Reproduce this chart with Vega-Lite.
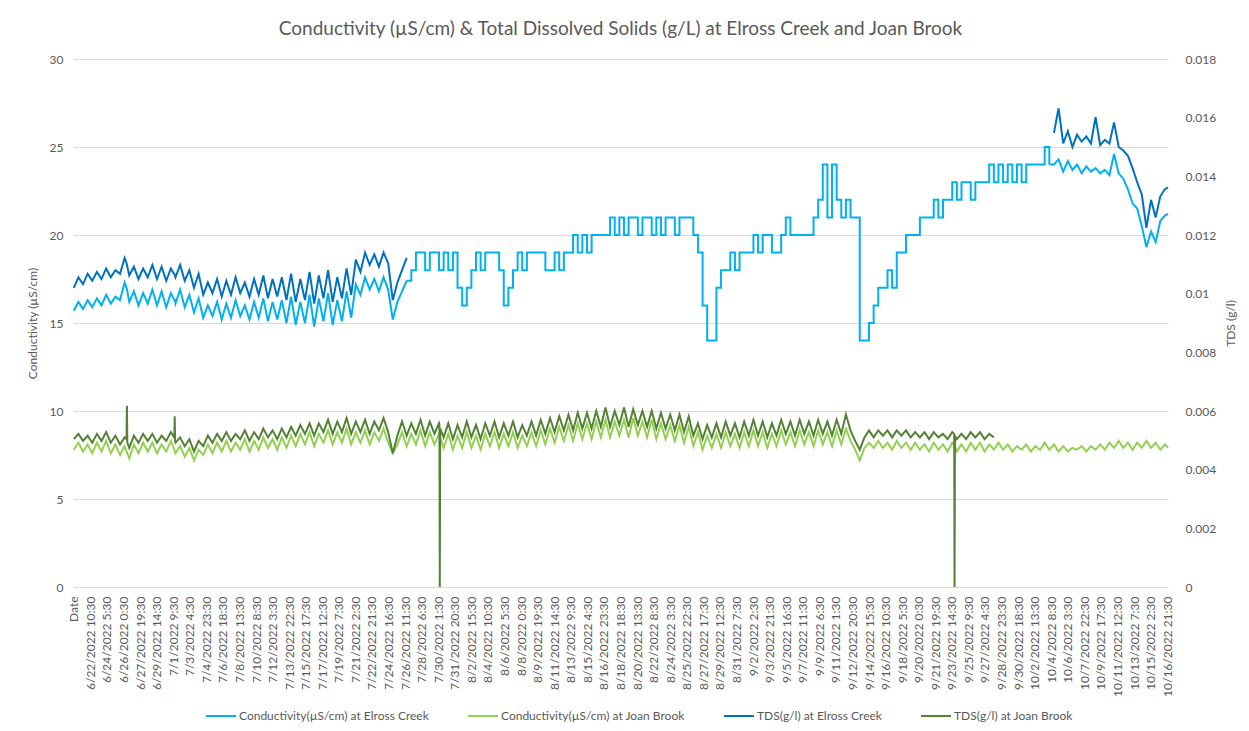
{
"$schema": "https://vega.github.io/schema/vega-lite/v6.json",
"width": 1095, "height": 528,
"autosize": {"type": "none"},
"padding": {"left": 73, "top": 59, "right": 81, "bottom": 144},
"background": "white",
"title": {"text": "Conductivity (µS/cm) & Total Dissolved Solids (g/L) at Elross Creek and Joan Brook", "fontSize": 19, "fontWeight": "normal", "color": "#595959", "anchor": "middle", "offset": 14},
"data": {"values": [
{"h":0,"ce":15.7,"cj":7.8,"te":0.0102,"tj":0.00504},
{"h":12,"ce":16.2,"cj":8.2,"te":0.01056,"tj":0.00522},
{"h":24,"ce":15.8,"cj":7.7,"te":0.01032,"tj":0.00498},
{"h":36,"ce":16.3,"cj":8.1,"te":0.01068,"tj":0.00516},
{"h":48,"ce":15.9,"cj":7.6,"te":0.01044,"tj":0.00492},
{"h":60,"ce":16.4,"cj":8.2,"te":0.01074,"tj":0.00522},
{"h":72,"ce":16.0,"cj":7.7,"te":0.0105,"tj":0.00498},
{"h":84,"ce":16.6,"cj":8.3,"te":0.01086,"tj":0.00528},
{"h":96,"ce":16.1,"cj":7.6,"te":0.01056,"tj":0.00492},
{"h":108,"ce":16.5,"cj":8.1,"te":0.0108,"tj":0.00516},
{"h":120,"ce":16.3,"cj":7.5,"te":0.01068,"tj":0.00486},
{"h":132,"ce":17.3,"cj":8.0,"te":0.01122,"tj":0.0051},
{"h":137,"ce":17.0,"cj":7.7,"te":0.01104,"tj":0.00504},
{"h":138,"ce":16.9,"cj":7.6,"te":0.01098,"tj":0.00618},
{"h":139,"ce":16.8,"cj":7.6,"te":0.01092,"tj":0.00492},
{"h":144,"ce":16.2,"cj":7.3,"te":0.01062,"tj":0.00474},
{"h":156,"ce":16.8,"cj":8.1,"te":0.01092,"tj":0.00516},
{"h":168,"ce":16.0,"cj":7.6,"te":0.0105,"tj":0.00492},
{"h":180,"ce":16.7,"cj":8.2,"te":0.01086,"tj":0.00522},
{"h":192,"ce":16.1,"cj":7.7,"te":0.01056,"tj":0.00498},
{"h":204,"ce":16.9,"cj":8.2,"te":0.01098,"tj":0.00522},
{"h":216,"ce":16.0,"cj":7.6,"te":0.0105,"tj":0.00492},
{"h":228,"ce":16.8,"cj":8.1,"te":0.01092,"tj":0.00516},
{"h":240,"ce":15.9,"cj":7.7,"te":0.01044,"tj":0.00498},
{"h":252,"ce":16.7,"cj":8.3,"te":0.01086,"tj":0.00528},
{"h":261,"ce":16.3,"cj":7.8,"te":0.01066,"tj":0.0051},
{"h":262,"ce":16.3,"cj":7.7,"te":0.01064,"tj":0.00582},
{"h":263,"ce":16.2,"cj":7.7,"te":0.0106,"tj":0.00498},
{"h":264,"ce":16.1,"cj":7.6,"te":0.01056,"tj":0.00492},
{"h":276,"ce":16.9,"cj":8.0,"te":0.01098,"tj":0.0051},
{"h":288,"ce":15.9,"cj":7.4,"te":0.01044,"tj":0.0048},
{"h":300,"ce":16.6,"cj":7.9,"te":0.0108,"tj":0.00504},
{"h":312,"ce":15.6,"cj":7.2,"te":0.0102,"tj":0.00462},
{"h":324,"ce":16.4,"cj":7.8,"te":0.01068,"tj":0.00498},
{"h":336,"ce":15.3,"cj":7.5,"te":0.00996,"tj":0.0048},
{"h":348,"ce":16.0,"cj":8.1,"te":0.01038,"tj":0.00516},
{"h":360,"ce":15.4,"cj":7.6,"te":0.01002,"tj":0.00492},
{"h":372,"ce":16.2,"cj":8.2,"te":0.0105,"tj":0.00522},
{"h":384,"ce":15.2,"cj":7.7,"te":0.0099,"tj":0.00498},
{"h":396,"ce":16.1,"cj":8.3,"te":0.01044,"tj":0.00528},
{"h":408,"ce":15.3,"cj":7.7,"te":0.00996,"tj":0.00498},
{"h":420,"ce":16.3,"cj":8.2,"te":0.01056,"tj":0.00522},
{"h":432,"ce":15.4,"cj":7.8,"te":0.01002,"tj":0.00504},
{"h":444,"ce":16.0,"cj":8.4,"te":0.01038,"tj":0.00534},
{"h":456,"ce":15.2,"cj":7.7,"te":0.0099,"tj":0.00498},
{"h":468,"ce":16.2,"cj":8.3,"te":0.0105,"tj":0.00528},
{"h":480,"ce":15.3,"cj":7.8,"te":0.00996,"tj":0.00504},
{"h":492,"ce":16.4,"cj":8.5,"te":0.01062,"tj":0.0054},
{"h":504,"ce":15.1,"cj":7.9,"te":0.00984,"tj":0.0051},
{"h":516,"ce":16.2,"cj":8.4,"te":0.0105,"tj":0.00534},
{"h":528,"ce":15.2,"cj":7.8,"te":0.0099,"tj":0.00504},
{"h":540,"ce":16.3,"cj":8.5,"te":0.01056,"tj":0.0054},
{"h":552,"ce":15.0,"cj":7.9,"te":0.00978,"tj":0.0051},
{"h":564,"ce":16.5,"cj":8.6,"te":0.01068,"tj":0.00546},
{"h":576,"ce":14.9,"cj":8.0,"te":0.00972,"tj":0.00516},
{"h":588,"ce":16.2,"cj":8.7,"te":0.0105,"tj":0.00552},
{"h":600,"ce":15.0,"cj":8.1,"te":0.00978,"tj":0.00522},
{"h":612,"ce":16.6,"cj":8.8,"te":0.01074,"tj":0.00558},
{"h":624,"ce":14.8,"cj":8.0,"te":0.00966,"tj":0.00516},
{"h":636,"ce":16.4,"cj":8.7,"te":0.01062,"tj":0.00558},
{"h":648,"ce":15.1,"cj":8.2,"te":0.00984,"tj":0.00528},
{"h":660,"ce":16.7,"cj":8.9,"te":0.0108,"tj":0.0057},
{"h":672,"ce":14.9,"cj":8.1,"te":0.00972,"tj":0.00522},
{"h":684,"ce":16.3,"cj":8.8,"te":0.01056,"tj":0.00564},
{"h":696,"ce":15.1,"cj":8.2,"te":0.00984,"tj":0.00528},
{"h":708,"ce":16.8,"cj":9.0,"te":0.01086,"tj":0.00576},
{"h":720,"ce":15.3,"cj":8.1,"te":0.00996,"tj":0.00522},
{"h":732,"ce":17.2,"cj":8.8,"te":0.01116,"tj":0.00564},
{"h":744,"ce":16.6,"cj":8.2,"te":0.01074,"tj":0.00528},
{"h":756,"ce":17.6,"cj":8.9,"te":0.0114,"tj":0.0057},
{"h":768,"ce":16.9,"cj":8.1,"te":0.01098,"tj":0.00522},
{"h":780,"ce":17.5,"cj":8.8,"te":0.01134,"tj":0.00564},
{"h":792,"ce":16.8,"cj":8.3,"te":0.01092,"tj":0.00534},
{"h":804,"ce":17.6,"cj":9.0,"te":0.0114,"tj":0.00576},
{"h":816,"ce":16.9,"cj":8.2,"te":0.01104,"tj":0.00528},
{"h":828,"ce":15.2,"cj":7.6,"te":0.00978,"tj":0.00456},
{"h":840,"ce":16.2,"cj":8.1,"te":0.01038,"tj":0.00516},
{"h":852,"ce":16.8,"cj":8.8,"te":0.0108,"tj":0.00564},
{"h":864,"ce":17.4,"cs":17.4,"cj":8.0,"te":0.01122,"tj":0.00516},
{"h":876,"cs":18,"cj":8.7,"tj":0.00558},
{"h":888,"cs":19,"cj":8.1,"tj":0.00522},
{"h":900,"cs":19,"cj":8.9,"tj":0.0057},
{"h":912,"cs":18,"cj":8.0,"tj":0.00516},
{"h":924,"cs":19,"cj":8.8,"tj":0.00564},
{"h":936,"cs":19,"cj":8.1,"tj":0.00522},
{"h":948,"cs":18,"cj":8.7,"tj":0.00558},
{"h":949,"cs":18,"cj":8.6,"tj":0.00552},
{"h":950,"cs":18,"cj":8.5,"tj":0},
{"h":951,"cs":18,"cj":8.5,"tj":0.0054},
{"h":960,"cs":19,"cj":7.9,"tj":0.0051},
{"h":972,"cs":18,"cj":8.7,"tj":0.00558},
{"h":984,"cs":19,"cj":7.8,"tj":0.00504},
{"h":996,"cs":17,"cj":8.6,"tj":0.00552},
{"h":1008,"cs":16,"cj":7.9,"tj":0.0051},
{"h":1020,"cs":17,"cj":8.8,"tj":0.00564},
{"h":1032,"cs":18,"cj":7.9,"tj":0.0051},
{"h":1044,"cs":19,"cj":8.6,"tj":0.00552},
{"h":1056,"cs":18,"cj":7.8,"tj":0.00504},
{"h":1068,"cs":19,"cj":8.7,"tj":0.00558},
{"h":1080,"cs":19,"cj":8.0,"tj":0.00516},
{"h":1092,"cs":19,"cj":8.8,"tj":0.00564},
{"h":1104,"cs":18,"cj":7.9,"tj":0.0051},
{"h":1116,"cs":16,"cj":8.7,"tj":0.00558},
{"h":1128,"cs":17,"cj":8.0,"tj":0.00516},
{"h":1140,"cs":18,"cj":8.8,"tj":0.00564},
{"h":1152,"cs":19,"cj":7.9,"tj":0.0051},
{"h":1164,"cs":18,"cj":8.6,"tj":0.00552},
{"h":1176,"cs":19,"cj":8.0,"tj":0.00516},
{"h":1188,"cs":19,"cj":8.8,"tj":0.00564},
{"h":1200,"cs":19,"cj":8.0,"tj":0.00516},
{"h":1212,"cs":19,"cj":8.9,"tj":0.0057},
{"h":1224,"cs":18,"cj":8.1,"tj":0.00522},
{"h":1236,"cs":18,"cj":9.0,"tj":0.00576},
{"h":1248,"cs":19,"cj":8.2,"tj":0.00528},
{"h":1260,"cs":18,"cj":9.1,"tj":0.00582},
{"h":1272,"cs":19,"cj":8.3,"tj":0.00534},
{"h":1284,"cs":19,"cj":9.2,"tj":0.00588},
{"h":1296,"cs":20,"cj":8.3,"tj":0.00534},
{"h":1308,"cs":19,"cj":9.3,"tj":0.00594},
{"h":1320,"cs":20,"cj":8.4,"tj":0.0054},
{"h":1332,"cs":19,"cj":9.3,"tj":0.00594},
{"h":1344,"cs":20,"cj":8.4,"tj":0.0054},
{"h":1356,"cs":20,"cj":9.4,"tj":0.006},
{"h":1368,"cs":20,"cj":8.5,"tj":0.00546},
{"h":1380,"cs":20,"cj":9.5,"tj":0.00612},
{"h":1392,"cs":21,"cj":8.5,"tj":0.00546},
{"h":1404,"cs":20,"cj":9.4,"tj":0.006},
{"h":1416,"cs":21,"cj":8.6,"tj":0.00552},
{"h":1428,"cs":20,"cj":9.5,"tj":0.00612},
{"h":1440,"cs":21,"cj":8.5,"tj":0.00546},
{"h":1452,"cs":21,"cj":9.6,"tj":0.00606},
{"h":1464,"cs":20,"cj":8.6,"tj":0.00552},
{"h":1476,"cs":21,"cj":9.4,"tj":0.006},
{"h":1488,"cs":21,"cj":8.5,"tj":0.00546},
{"h":1500,"cs":20,"cj":9.5,"tj":0.006},
{"h":1512,"cs":21,"cj":8.4,"tj":0.0054},
{"h":1524,"cs":20,"cj":9.3,"tj":0.00594},
{"h":1536,"cs":21,"cj":8.4,"tj":0.0054},
{"h":1548,"cs":21,"cj":9.2,"tj":0.00588},
{"h":1560,"cs":20,"cj":8.3,"tj":0.00534},
{"h":1572,"cs":21,"cj":9.2,"tj":0.00588},
{"h":1584,"cs":21,"cj":8.2,"tj":0.00528},
{"h":1596,"cs":21,"cj":9.1,"tj":0.00582},
{"h":1608,"cs":20,"cj":8.0,"tj":0.00516},
{"h":1620,"cs":19,"cj":8.8,"tj":0.00558},
{"h":1632,"cs":16,"cj":7.8,"tj":0.00504},
{"h":1644,"cs":14,"cj":8.6,"tj":0.00552},
{"h":1656,"cs":14,"cj":7.9,"tj":0.0051},
{"h":1668,"cs":17,"cj":8.7,"tj":0.00558},
{"h":1680,"cs":18,"cj":7.9,"tj":0.0051},
{"h":1692,"cs":18,"cj":8.8,"tj":0.00564},
{"h":1704,"cs":19,"cj":8.0,"tj":0.00516},
{"h":1716,"cs":18,"cj":8.7,"tj":0.00558},
{"h":1728,"cs":19,"cj":7.9,"tj":0.0051},
{"h":1740,"cs":19,"cj":8.8,"tj":0.00564},
{"h":1752,"cs":19,"cj":8.0,"tj":0.00516},
{"h":1764,"cs":20,"cj":8.9,"tj":0.0057},
{"h":1776,"cs":19,"cj":8.0,"tj":0.00516},
{"h":1788,"cs":20,"cj":8.8,"tj":0.00564},
{"h":1800,"cs":20,"cj":7.9,"tj":0.0051},
{"h":1812,"cs":19,"cj":8.7,"tj":0.00558},
{"h":1824,"cs":19,"cj":8.0,"tj":0.00516},
{"h":1836,"cs":20,"cj":8.9,"tj":0.0057},
{"h":1848,"cs":21,"cj":8.1,"tj":0.00522},
{"h":1860,"cs":20,"cj":8.8,"tj":0.00564},
{"h":1872,"cs":20,"cj":8.0,"tj":0.00516},
{"h":1884,"cs":20,"cj":8.9,"tj":0.0057},
{"h":1896,"cs":20,"cj":8.1,"tj":0.00522},
{"h":1908,"cs":20,"cj":8.8,"tj":0.00564},
{"h":1920,"cs":21,"cj":8.0,"tj":0.00516},
{"h":1932,"cs":22,"cj":8.9,"tj":0.0057},
{"h":1944,"cs":24,"cj":8.1,"tj":0.00522},
{"h":1956,"cs":21,"cj":8.8,"tj":0.00564},
{"h":1968,"cs":24,"cj":8.0,"tj":0.00516},
{"h":1980,"cs":22,"cj":8.9,"tj":0.0057},
{"h":1992,"cs":21,"cj":8.1,"tj":0.00522},
{"h":2004,"cs":22,"cj":9.0,"tj":0.00588},
{"h":2016,"cs":21,"cj":8.3,"tj":0.00534},
{"h":2028,"cs":21,"cj":7.8,"tj":0.00498},
{"h":2040,"cs":14,"cj":7.2,"tj":0.00468},
{"h":2052,"cs":14,"cj":7.9,"tj":0.0051},
{"h":2064,"cs":15,"cj":8.2,"tj":0.00534},
{"h":2076,"cs":16,"cj":7.9,"tj":0.0051},
{"h":2088,"cs":17,"cj":8.3,"tj":0.00534},
{"h":2100,"cs":17,"cj":7.9,"tj":0.00516},
{"h":2112,"cs":18,"cj":8.2,"tj":0.00534},
{"h":2124,"cs":17,"cj":7.8,"tj":0.0051},
{"h":2136,"cs":19,"cj":8.3,"tj":0.00534},
{"h":2148,"cs":19,"cj":7.9,"tj":0.00516},
{"h":2160,"cs":20,"cj":8.2,"tj":0.00534},
{"h":2172,"cs":20,"cj":7.8,"tj":0.0051},
{"h":2184,"cs":20,"cj":8.2,"tj":0.00528},
{"h":2196,"cs":21,"cj":7.8,"tj":0.0051},
{"h":2208,"cs":21,"cj":8.1,"tj":0.00528},
{"h":2220,"cs":21,"cj":7.7,"tj":0.00504},
{"h":2232,"cs":22,"cj":8.2,"tj":0.00528},
{"h":2244,"cs":21,"cj":7.8,"tj":0.0051},
{"h":2256,"cs":22,"cj":8.1,"tj":0.00522},
{"h":2268,"cs":22,"cj":7.7,"tj":0.00504},
{"h":2280,"cs":23,"cj":8.2,"tj":0.00528},
{"h":2285,"cs":23,"cj":8.1,"tj":0.00522},
{"h":2286,"cs":23,"cj":8.0,"tj":0},
{"h":2287,"cs":23,"cj":8.0,"tj":0.00516},
{"h":2292,"cs":22,"cj":7.7,"tj":0.00504},
{"h":2304,"cs":23,"cj":8.1,"tj":0.00522},
{"h":2316,"cs":23,"cj":7.7,"tj":0.00504},
{"h":2328,"cs":22,"cj":8.2,"tj":0.00528},
{"h":2340,"cs":23,"cj":7.8,"tj":0.0051},
{"h":2352,"cs":23,"cj":8.2,"tj":0.00528},
{"h":2364,"cs":23,"cj":7.7,"tj":0.00504},
{"h":2376,"cs":24,"cj":8.1,"tj":0.00522},
{"h":2388,"cs":23,"cj":7.8,"tj":0.0051},
{"h":2400,"cs":24,"cj":8.2},
{"h":2412,"cs":23,"cj":7.8},
{"h":2424,"cs":24,"cj":8.1},
{"h":2436,"cs":23,"cj":7.7},
{"h":2448,"cs":24,"cj":8.0},
{"h":2460,"cs":23,"cj":7.8},
{"h":2472,"cs":24,"cj":8.1},
{"h":2484,"cs":24,"cj":7.7},
{"h":2496,"cs":24,"cj":8.0},
{"h":2508,"cs":24,"cj":7.8},
{"h":2520,"cs":25,"cj":8.2},
{"h":2532,"cs":24,"ce":24,"cj":7.8},
{"h":2544,"ce":24.0,"cj":8.1,"te":0.01548},
{"h":2556,"ce":24.3,"cj":7.7,"te":0.01632},
{"h":2568,"ce":23.6,"cj":8.0,"te":0.01512},
{"h":2580,"ce":24.2,"cj":7.7,"te":0.01554},
{"h":2592,"ce":23.7,"cj":7.9,"te":0.015},
{"h":2604,"ce":24.0,"cj":7.8,"te":0.01542},
{"h":2616,"ce":23.5,"cj":8.0,"te":0.01518},
{"h":2628,"ce":23.9,"cj":7.7,"te":0.01536},
{"h":2640,"ce":23.6,"cj":8.0,"te":0.01512},
{"h":2652,"ce":23.8,"cj":7.8,"te":0.01602},
{"h":2664,"ce":23.5,"cj":8.1,"te":0.01506},
{"h":2676,"ce":23.7,"cj":7.8,"te":0.01524},
{"h":2688,"ce":23.4,"cj":8.2,"te":0.01512},
{"h":2700,"ce":24.6,"cj":7.9,"te":0.01584},
{"h":2712,"ce":23.5,"cj":8.3,"te":0.015},
{"h":2724,"ce":23.2,"cj":7.9,"te":0.01488},
{"h":2736,"ce":22.6,"cj":8.2,"te":0.0147},
{"h":2748,"ce":21.8,"cj":7.8,"te":0.01428},
{"h":2760,"ce":21.5,"cj":8.2,"te":0.0138},
{"h":2772,"ce":20.5,"cj":7.9,"te":0.01338},
{"h":2784,"ce":19.3,"cj":8.3,"te":0.01224},
{"h":2796,"ce":20.2,"cj":7.9,"te":0.0132},
{"h":2808,"ce":19.6,"cj":8.2,"te":0.0126},
{"h":2820,"ce":20.8,"cj":7.8,"te":0.01332},
{"h":2832,"ce":21.1,"cj":8.1,"te":0.01356},
{"h":2840,"ce":21.2,"cj":7.9,"te":0.01362}
]},
"encoding": {
  "x": {"field": "h", "type": "quantitative", "scale": {"domain": [-2, 2840], "nice": false, "zero": false},
    "axis": {"title": null, "grid": false, "domain": false, "ticks": false, "labelAngle": -90, "labelAlign": "right", "labelBaseline": "middle", "labelPadding": 9, "labelOverlap": false, "labelFlush": false, "labelFontSize": 12,
      "values": [0,43,86,129,172,215,258,301,344,387,430,473,516,559,602,645,688,731,774,817,860,903,946,989,1032,1075,1118,1161,1204,1247,1290,1333,1376,1419,1462,1505,1548,1591,1634,1677,1720,1763,1806,1849,1892,1935,1978,2021,2064,2107,2150,2193,2236,2279,2322,2365,2408,2451,2494,2537,2580,2623,2666,2709,2752,2795,2838],
      "labelExpr": "datum.value == 0 ? 'Date' : utcFormat(utc(2022,5,20,15,30) + datum.value*3600000, '%-m/%-d/%Y %-H:%M')"}}
},
"layer": [
  {"transform": [{"fold": ["ce", "cj"], "as": ["s", "v"]}],
   "mark": {"type": "line", "strokeWidth": 2, "invalid": "break-paths-show-domains"},
   "encoding": {
     "y": {"field": "v", "type": "quantitative", "scale": {"domain": [0, 30], "nice": false},
       "axis": {"orient": "left", "values": [0,5,10,15,20,25,30], "grid": true, "title": "Conductivity (µS/cm)", "labelPadding": 10, "titlePadding": 10}},
     "color": {"field": "s", "type": "nominal", "scale": {"domain": ["ce","cj","te","tj","cs"], "range": ["#00B0F0","#92D050","#0070C0","#548235","#00B0F0"]},
       "legend": {"values": ["ce","cj","te","tj"], "orient": "none", "direction": "horizontal", "legendX": 132, "legendY": 641,
         "labelExpr": "datum.label == 'ce' ? 'Conductivity(µS/cm) at Elross Creek' : datum.label == 'cj' ? 'Conductivity(µS/cm) at Joan Brook' : datum.label == 'te' ? 'TDS(g/l) at Elross Creek' : 'TDS(g/l) at Joan Brook'"}}
   }},
  {"transform": [{"fold": ["cs"], "as": ["s", "v"]}],
   "mark": {"type": "line", "strokeWidth": 2, "interpolate": "step-after", "invalid": "break-paths-show-domains"},
   "encoding": {
     "y": {"field": "v", "type": "quantitative", "scale": {"domain": [0, 30], "nice": false}, "axis": null},
     "color": {"field": "s", "type": "nominal"}
   }},
  {"transform": [{"fold": ["te", "tj"], "as": ["s", "v"]}],
   "mark": {"type": "line", "strokeWidth": 2, "invalid": "break-paths-show-domains"},
   "encoding": {
     "y": {"field": "v", "type": "quantitative", "scale": {"domain": [0, 0.018], "nice": false},
       "axis": {"orient": "right", "values": [0,0.002,0.004,0.006,0.008,0.01,0.012,0.014,0.016,0.018], "format": "~g", "grid": false, "title": "TDS (g/l)", "titleAngle": -90, "labelPadding": 17, "titlePadding": 22}},
     "color": {"field": "s", "type": "nominal"}
   }}
],
"resolve": {"scale": {"y": "independent"}},
"config": {
  "font": "Lato",
  "view": {"stroke": null},
  "axis": {"labelColor": "#595959", "titleColor": "#595959", "labelFontSize": 12, "titleFontSize": 12, "titleFontWeight": "normal", "ticks": false, "domain": false, "gridColor": "#d9d9d9", "gridWidth": 1},
  "legend": {"title": null, "symbolType": "stroke", "symbolSize": 900, "symbolStrokeWidth": 2, "labelFontSize": 12, "labelColor": "#595959", "columnPadding": 35, "labelOffset": 2, "labelLimit": 0}
}
}
